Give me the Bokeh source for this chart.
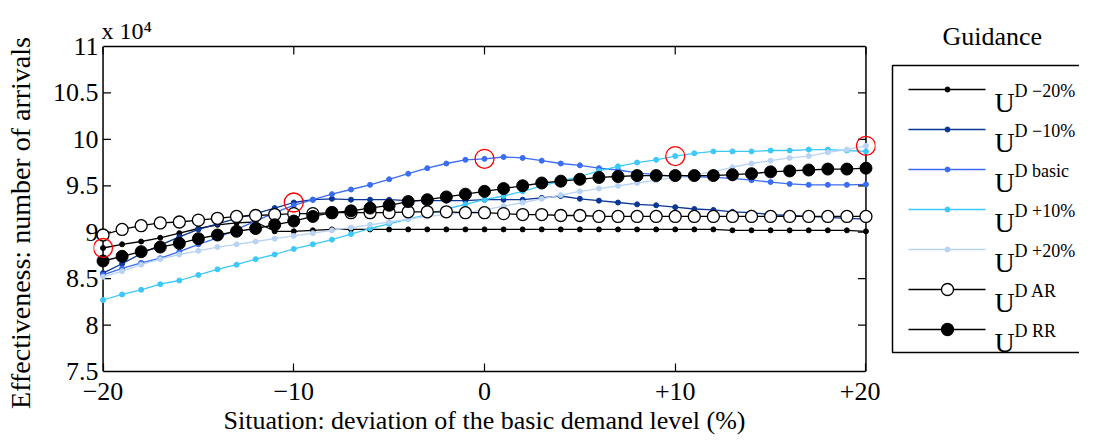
from bokeh.plotting import figure
from bokeh.models import Range1d, FixedTicker, LinearAxis
from bokeh.layouts import row
from bokeh.embed import file_html
from bokeh.resources import INLINE
from bokeh.core.properties import value

# ---------------- data ----------------
situation = list(range(-20, 21))

u_minus20 = [8.83, 8.87, 8.90, 8.94, 8.99, 9.04, 9.08, 9.10, 9.11, 9.01,
             9.01, 9.02, 9.03, 9.03, 9.03, 9.03, 9.03, 9.03, 9.03, 9.03,
             9.03, 9.03, 9.03, 9.03, 9.03, 9.03, 9.03, 9.03, 9.03, 9.03,
             9.03, 9.03, 9.03, 9.02, 9.02, 9.02, 9.02, 9.02, 9.02, 9.02, 9.01]
u_minus10 = [8.56, 8.66, 8.77, 8.86, 8.95, 9.03, 9.09, 9.15, 9.20, 9.26,
             9.32, 9.35, 9.36, 9.35, 9.35, 9.35, 9.34, 9.34, 9.34, 9.34,
             9.35, 9.35, 9.35, 9.37, 9.39, 9.36, 9.34, 9.32, 9.30, 9.29,
             9.27, 9.25, 9.24, 9.22, 9.21, 9.19, 9.18, 9.17, 9.16, 9.15, 9.14]
u_basic = [8.54, 8.61, 8.67, 8.72, 8.79, 8.87, 8.94, 9.03, 9.12, 9.21,
           9.29, 9.35, 9.41, 9.46, 9.51, 9.57, 9.63, 9.69, 9.74, 9.78,
           9.79, 9.81, 9.80, 9.77, 9.74, 9.72, 9.69, 9.67, 9.64, 9.62,
           9.60, 9.60, 9.59, 9.58, 9.56, 9.54, 9.52, 9.51, 9.51, 9.51, 9.515]
u_plus10 = [8.27, 8.33, 8.38, 8.44, 8.48, 8.54, 8.60, 8.65, 8.71, 8.76,
            8.82, 8.87, 8.92, 8.98, 9.04, 9.09, 9.14, 9.19, 9.25, 9.30,
            9.35, 9.39, 9.44, 9.50, 9.55, 9.60, 9.66, 9.71, 9.75, 9.78,
            9.82, 9.85, 9.87, 9.87, 9.87, 9.88, 9.88, 9.89, 9.89, 9.88, 9.87]
u_plus20 = [8.52, 8.58, 8.65, 8.71, 8.76, 8.80, 8.84, 8.87, 8.90, 8.93,
            8.96, 8.99, 9.02, 9.05, 9.08, 9.11, 9.14, 9.17, 9.19, 9.21,
            9.24, 9.28, 9.32, 9.36, 9.40, 9.44, 9.47, 9.50, 9.53, 9.56,
            9.59, 9.62, 9.65, 9.70, 9.74, 9.77, 9.80, 9.82, 9.86, 9.89, 9.93]
u_ar = [8.97, 9.03, 9.07, 9.10, 9.11, 9.13, 9.15, 9.17, 9.18, 9.19,
        9.20, 9.20, 9.21, 9.21, 9.21, 9.21, 9.22, 9.22, 9.22, 9.21,
        9.21, 9.20, 9.19, 9.19, 9.18, 9.18, 9.17, 9.17, 9.17, 9.17,
        9.17, 9.17, 9.17, 9.17, 9.17, 9.17, 9.17, 9.17, 9.17, 9.17, 9.17]
u_rr = [8.69, 8.74, 8.79, 8.84, 8.88, 8.93, 8.97, 9.01, 9.04, 9.08,
        9.12, 9.17, 9.21, 9.23, 9.26, 9.29, 9.33, 9.35, 9.38, 9.41,
        9.44, 9.47, 9.50, 9.53, 9.55, 9.57, 9.59, 9.60, 9.61, 9.61,
        9.61, 9.61, 9.61, 9.62, 9.63, 9.65, 9.66, 9.67, 9.68, 9.68, 9.69]

series_names = ["D \u221220%", "D \u221210%", "D basic", "D +10%", "D +20%", "D AR", "D RR"]
x_ticks = [-20, -10, 0, 10, 20]
x_tick_labels = ["\u221220", "\u221210", "0", "+10", "+20"]
y_ticks = [7.5, 8, 8.5, 9, 9.5, 10, 10.5, 11]
y_tick_labels = ["7.5", "8", "8.5", "9", "9.5", "10", "10.5", "11"]
x_min, x_max = -20, 20
y_min, y_max = 7.5, 11

# design points (guidance level == situation)
match_x = [-20, -10, 0, 10, 20]
match_y = [u_minus20[situation.index(-20)], u_minus10[situation.index(-10)],
           u_basic[situation.index(0)], u_plus10[situation.index(10)],
           u_plus20[situation.index(20)]]

# ---------------- style / layout ----------------
FONT = "Liberation Serif"
TICK_FS = "26px"
colors = ["#000000", "#0a3696", "#3a6cf4", "#3cc8f8", "#b9d3f3"]
small_series = [u_minus20, u_minus10, u_basic, u_plus10, u_plus20]

PAD = 0.5                      # room so edge markers are not clipped
W1, H = 880, 444
BL, BR, BT, BB = 93, 5, 46, 73
frame_w = W1 - BL - BR
frame_h = H - BT - BB
px_per_x = frame_w / ((x_max - x_min) + 2 * PAD)
px_per_y = frame_h / (y_max - y_min)
TICK = 8

p = figure(width=W1, height=H, x_range=Range1d(x_min - PAD, x_max + PAD),
           y_range=Range1d(y_min, y_max),
           output_backend="svg", toolbar_location=None,
           min_border_left=BL, min_border_right=BR, min_border_top=BT, min_border_bottom=BB)
p.grid.visible = False
p.outline_line_color = None
p.background_fill_color = "white"
p.border_fill_color = "white"

p.title.text = "x 10\u2074"
p.title.align = "left"
p.title.offset = 8
p.title.standoff = 6
p.title.text_font = FONT
p.title.text_font_size = "24px"
p.title.text_font_style = "normal"
p.title.text_color = "black"

def style_axis(ax):
    ax.major_tick_in = TICK
    ax.major_tick_out = 0
    ax.minor_tick_line_color = None
    ax.axis_line_width = 1.5
    ax.major_tick_line_width = 1.2
    ax.major_label_text_font = FONT
    ax.major_label_text_color = "black"
    ax.major_label_text_font_size = TICK_FS
    ax.axis_label_text_font = FONT
    ax.axis_label_text_font_style = "normal"
    ax.axis_label_text_color = "black"

xa = p.xaxis[0]
ya = p.yaxis[0]
style_axis(xa)
style_axis(ya)
xa.ticker = FixedTicker(ticks=x_ticks)
xa.major_label_overrides = {t: l for t, l in zip(x_ticks, x_tick_labels)}
xa.bounds = (x_min, x_max)
xa.axis_label = "Situation: deviation of the basic demand level (%)"
xa.axis_label_text_font_size = "26px"
xa.major_label_standoff = 11
xa.axis_label_standoff = 3

# left labels sit at the frame edge; the box line and its ticks are drawn at x_min below
ya.ticker = FixedTicker(ticks=y_ticks)
ya.major_label_overrides = {(int(t) if float(t).is_integer() else t): l
                            for t, l in zip(y_ticks, y_tick_labels)}
ya.axis_line_color = None
ya.major_tick_line_color = None
ya.major_tick_in = 0
ya.axis_label = "Effectiveness: number of arrivals" + "\u00a0" * 4
ya.axis_label_text_font_size = "28px"
ya.major_label_standoff = -5
ya.axis_label_standoff = 14

ax_t = LinearAxis(ticker=FixedTicker(ticks=[]), bounds=(x_min, x_max))
ax_t.axis_line_width = 1.5
ax_t.major_tick_line_color = None
ax_t.minor_tick_line_color = None
p.add_layout(ax_t, "above")

# left and right edges of the box, and inward ticks on left, top and right
p.segment(x0=[x_min, x_max], x1=[x_min, x_max], y0=[y_min, y_min], y1=[y_max, y_max],
          line_color="black", line_width=1.5)
p.segment(x0=x_ticks, x1=x_ticks, y0=[y_max] * len(x_ticks),
          y1=[y_max - TICK / px_per_y] * len(x_ticks), line_color="black", line_width=1.2)
p.segment(x0=[x_max] * len(y_ticks), x1=[x_max - TICK / px_per_x] * len(y_ticks),
          y0=y_ticks, y1=y_ticks, line_color="black", line_width=1.2)
p.segment(x0=[x_min] * len(y_ticks), x1=[x_min + TICK / px_per_x] * len(y_ticks),
          y0=y_ticks, y1=y_ticks, line_color="black", line_width=1.2)

for ys, c in zip(small_series, colors):
    p.line(situation, ys, line_color=c, line_width=1.3)
    p.scatter(situation, ys, size=5, fill_color=c, line_color=c)

p.line(situation, u_ar, line_color="black", line_width=1.3)
p.scatter(situation, u_ar, size=12, fill_color="white", line_color="black", line_width=1.3)
p.line(situation, u_rr, line_color="black", line_width=1.3)
p.scatter(situation, u_rr, size=12, fill_color="black", line_color="black")

p.scatter(match_x, match_y, size=19, fill_color=None, line_color="red", line_width=1.3)

# ---------------- legend panel (coordinates = page pixels) ----------------
X0 = 1 + W1
X1 = 1080
TOP = 1 + BT
BOT = TOP + frame_h
leg = figure(width=X1 - X0, height=H, x_range=Range1d(X0, X1), y_range=Range1d(BOT, TOP),
             output_backend="svg", toolbar_location=None, x_axis_type=None, y_axis_type=None,
             min_border_left=0, min_border_right=0, min_border_top=BT, min_border_bottom=BB)
leg.grid.visible = False
leg.outline_line_color = None
leg.background_fill_color = "white"
leg.border_fill_color = "white"
leg.title.text = "Guidance"
leg.title.align = "left"
leg.title.offset = 943 - X0
leg.title.standoff = -8
leg.title.text_font = FONT
leg.title.text_font_size = "26px"
leg.title.text_font_style = "normal"
leg.title.text_color = "black"

box_l, box_t, box_b = 893, 66, 353
leg.line(x=[X1 + 20, box_l, box_l, X1 + 20], y=[box_t, box_t, box_b, box_b],
         line_color="black", line_width=1.5)

row_y = [90 + 40 * k for k in range(len(series_names))]
for k, name in enumerate(series_names):
    yk = row_y[k]
    if k < 5:
        c = colors[k]
        leg.segment(x0=[909], y0=[yk], x1=[986], y1=[yk], line_color=c, line_width=1.3)
        leg.scatter([948], [yk], size=5, fill_color=c, line_color=c)
    else:
        leg.segment(x0=[909], y0=[yk], x1=[986], y1=[yk], line_color="black", line_width=1.3)
        fc = "white" if k == 5 else "black"
        leg.scatter([948], [yk], size=12, fill_color=fc, line_color="black", line_width=1.3)
    leg.text(x=[995], y=[yk + 13], text=["U"], text_font=value(FONT), text_font_size="28px",
             text_baseline="alphabetic", text_color="black")
    leg.text(x=[1015], y=[yk + 1], text=[name], text_font=value(FONT), text_font_size="18px",
             text_baseline="alphabetic", text_color="black")

layout = row(p, leg)
open("out.html", "w").write(file_html(layout, INLINE))
